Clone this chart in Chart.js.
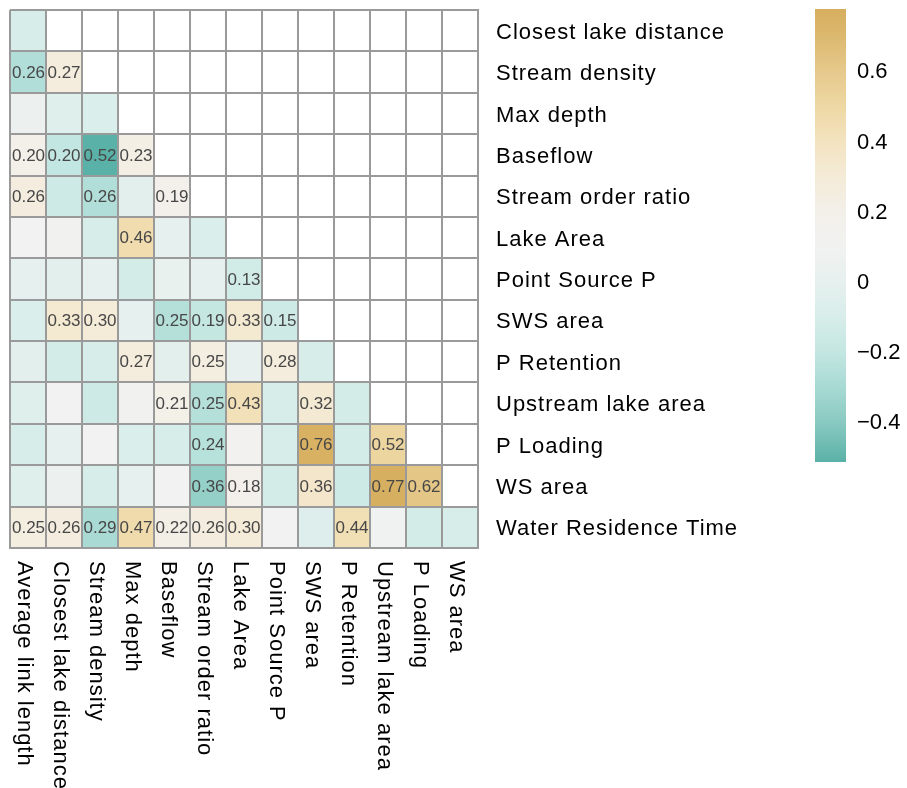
<!DOCTYPE html>
<html><head><meta charset="utf-8">
<script src="https://cdn.jsdelivr.net/npm/chart.js@4.4.0/dist/chart.umd.min.js"></script>
<style>
html,body{margin:0;padding:0;background:#fff;}
#wrap{position:relative;width:907px;height:788px;overflow:hidden;}
#main{position:absolute;left:0;top:0;}
#cb{position:absolute;left:805px;top:0;}
</style></head><body>
<div id="wrap">
<canvas id="main" width="907" height="788"></canvas>
<canvas id="cb" width="102" height="480"></canvas>
</div>
<script>
// ---- data ----
const rowLabels = ["Closest lake distance","Stream density","Max depth","Baseflow","Stream order ratio","Lake Area","Point Source P","SWS area","P Retention","Upstream lake area","P Loading","WS area","Water Residence Time"];
const colLabels = ["Average link length","Closest lake distance","Stream density","Max depth","Baseflow","Stream order ratio","Lake Area","Point Source P","SWS area","P Retention","Upstream lake area","P Loading","WS area"];
const corrValues = [
  [-0.10],
  [-0.26, 0.27],
  [0.05, -0.05, -0.08],
  [0.20, -0.20, -0.52, 0.23],
  [0.26, -0.15, -0.26, -0.03, 0.19],
  [0.10, 0.12, -0.10, 0.46, 0.00, -0.08],
  [0.00, -0.02, 0.00, -0.12, 0.03, 0.00, -0.13],
  [-0.08, 0.33, 0.30, 0.00, -0.25, -0.19, 0.33, -0.15],
  [-0.02, -0.12, -0.10, 0.27, -0.02, 0.25, 0.02, 0.28, -0.10],
  [-0.05, 0.10, -0.15, 0.12, 0.21, -0.25, 0.43, -0.10, 0.32, -0.12],
  [-0.10, 0.00, 0.10, -0.08, -0.10, -0.24, 0.13, -0.10, 0.76, -0.12, 0.52],
  [-0.05, 0.05, -0.10, 0.00, 0.10, -0.36, 0.18, -0.12, 0.36, -0.15, 0.77, 0.62],
  [0.25, 0.26, -0.29, 0.47, 0.22, 0.26, 0.30, 0.10, -0.06, 0.44, 0.08, -0.12, -0.10]
];
const labelShown = [
  [0],
  [1,1],
  [0,0,0],
  [1,1,1,1],
  [1,0,1,0,1],
  [0,0,0,1,0,0],
  [0,0,0,0,0,0,1],
  [0,1,1,0,1,1,1,1],
  [0,0,0,1,0,1,0,1,0],
  [0,0,0,0,1,1,1,0,1,0],
  [0,0,0,0,0,1,0,0,1,0,1],
  [0,0,0,0,0,1,1,0,1,0,1,1],
  [1,1,1,1,1,1,1,0,0,1,0,0,0]
];
const legendTicks = [-0.4, -0.2, 0, 0.2, 0.4, 0.6];
const legendMin = -0.51, legendMax = 0.78;

// ---- palette (value -> colour stops) ----
const paletteValues = [-0.51, -0.40, -0.30, -0.20, -0.10, 0.00, 0.10, 0.20, 0.30, 0.40, 0.50, 0.60, 0.70, 0.78];
const paletteColors = ["#5AB1A7","#88C9C1","#A7D9D3","#C2E6E1","#D7EDEA","#E6F0EE","#F1F2F1","#F3F0EA","#F4EBD8","#F3E3C0","#EED8A4","#E6C98C","#DCB970","#D6AE5E"];

function hexRgb(h){return [parseInt(h.slice(1,3),16),parseInt(h.slice(3,5),16),parseInt(h.slice(5,7),16)];}
function colorFor(v){
  if (v <= paletteValues[0]) return paletteColors[0];
  const n = paletteValues.length;
  if (v >= paletteValues[n-1]) return paletteColors[n-1];
  for (let k = 0; k < n-1; k++){
    if (v >= paletteValues[k] && v <= paletteValues[k+1]){
      const f = (v - paletteValues[k])/(paletteValues[k+1]-paletteValues[k]);
      const a = hexRgb(paletteColors[k]), b = hexRgb(paletteColors[k+1]);
      const c = a.map((x,i)=>Math.round(x + (b[i]-x)*f));
      return 'rgb('+c.join(',')+')';
    }
  }
}

const FONT = '"Liberation Sans", Arial, Helvetica, sans-serif';
const GRID = '#9a9a9a';

const datasets = colLabels.map((c, j) => ({
  label: c,
  data: rowLabels.map((r, i) => j <= i ? [j, j + 1] : null),
  backgroundColor: rowLabels.map((r, i) => j <= i ? colorFor(corrValues[i][j]) : 'rgba(0,0,0,0)'),
  borderWidth: 0,
  barPercentage: 1,
  categoryPercentage: 1,
  grouped: false
}));

const overlay = {
  id: 'overlay',
  beforeDraw(chart){ chart.ctx.letterSpacing = '1px'; },
  afterDraw(chart){
    const ctx = chart.ctx, xs = chart.scales.x;
    ctx.save();
    ctx.letterSpacing = '0px';
    ctx.font = '17px ' + FONT;
    ctx.fillStyle = '#474747';
    ctx.textAlign = 'center';
    ctx.textBaseline = 'middle';
    corrValues.forEach((row, i) => row.forEach((v, j) => {
      if (!labelShown[i][j]) return;
      const p = chart.getDatasetMeta(j).data[i].getCenterPoint();
      ctx.fillText(Math.abs(v).toFixed(2), p.x, p.y + 1);
    }));
    ctx.restore();
    ctx.save();
    ctx.letterSpacing = '1px';
    ctx.font = '22px ' + FONT;
    ctx.fillStyle = '#000';
    ctx.textAlign = 'left';
    ctx.textBaseline = 'middle';
    colLabels.forEach((c, j) => {
      const x = xs.getPixelForValue(j + 0.5);
      ctx.save();
      ctx.translate(x - 4, chart.chartArea.bottom + 13);
      ctx.rotate(Math.PI / 2);
      ctx.fillText(c, 0, 0);
      ctx.restore();
    });
    ctx.restore();
  }
};

new Chart(document.getElementById('main'), {
  type: 'bar',
  data: { labels: rowLabels, datasets },
  plugins: [overlay],
  options: {
    indexAxis: 'y',
    responsive: false,
    animation: false,
    layout: { padding: { left: 10, top: 10, right: 0, bottom: 0 } },
    plugins: { legend: { display: false }, tooltip: { enabled: false } },
    scales: {
      x: {
        type: 'linear', min: 0, max: 13, position: 'bottom',
        ticks: { display: false, stepSize: 1 },
        grid: { color: GRID, lineWidth: 2, drawTicks: false, z: 1 },
        border: { color: GRID, width: 2, z: 1 },
        afterFit: s => { s.height = 240; s.paddingLeft = 0; s.paddingRight = 0; }
      },
      y: {
        type: 'category', position: 'right', offset: true,
        grid: { offset: true, color: GRID, lineWidth: 2, drawTicks: false, z: 1 },
        border: { color: GRID, width: 2, z: 1 },
        ticks: { font: { family: FONT, size: 22 }, color: '#000', padding: 18, autoSkip: false, labelOffset: 2 },
        afterFit: s => { s.width = 907 - 478; s.paddingTop = 0; s.paddingBottom = 0; }
      }
    }
  }
});

// ---- colour bar legend ----
new Chart(document.getElementById('cb'), {
  type: 'bar',
  data: { labels: [''], datasets: [{
    data: [[legendMin, legendMax]],
    backgroundColor: (c) => {
      const chart = c.chart;
      if (!chart.chartArea) return paletteColors[5];
      const ys = chart.scales.y;
      const g = chart.ctx.createLinearGradient(0, ys.getPixelForValue(legendMin), 0, ys.getPixelForValue(legendMax));
      paletteValues.forEach((v, k) => {
        const t = Math.min(1, Math.max(0, (v - legendMin) / (legendMax - legendMin)));
        g.addColorStop(t, paletteColors[k]);
      });
      return g;
    },
    borderWidth: 0, barPercentage: 1, categoryPercentage: 1
  }]},
  options: {
    responsive: false, animation: false,
    layout: { padding: { left: 10, top: 9, bottom: 18, right: 0 } },
    plugins: { legend: { display: false }, tooltip: { enabled: false } },
    scales: {
      x: { display: false },
      y: {
        position: 'right', min: legendMin, max: legendMax,
        grid: { display: false, drawTicks: false },
        border: { display: false },
        afterBuildTicks: s => { s.ticks = legendTicks.map(v => ({ value: v })); },
        ticks: {
          font: { family: FONT, size: 22 }, color: '#000', padding: 11,
          callback: v => v === 0 ? '0' : (v < 0 ? '\u2212' : '') + Math.abs(v).toFixed(1)
        },
        afterFit: s => { s.width = 61; s.paddingTop = 0; s.paddingBottom = 0; }
      }
    }
  }
});
</script>
</body></html>
